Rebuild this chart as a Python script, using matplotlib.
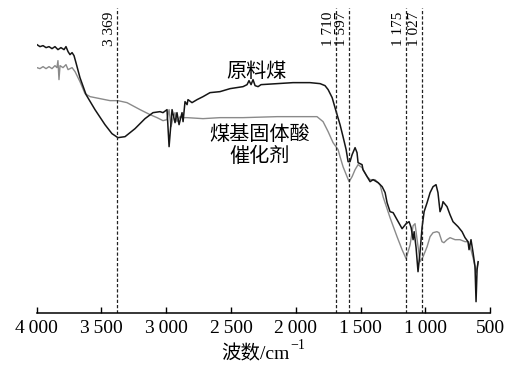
import matplotlib
matplotlib.use("Agg")
import matplotlib.pyplot as plt

plt.rcParams['font.family'] = ['Liberation Serif', 'Noto Sans CJK SC', 'DejaVu Sans']

# 原料煤 (raw coal) - wavenumber / transmittance (arb. units)
coal_w = [3998, 3975, 3951, 3928, 3905, 3882, 3859, 3836, 3813, 3789, 3774, 3758, 3743, 3727,
          3712, 3697, 3666, 3619, 3550, 3473, 3419, 3373, 3318, 3241, 3164, 3102, 3048, 3025,
          2994, 2978, 2955, 2932, 2917, 2901, 2878, 2870, 2855, 2839, 2832, 2801, 2762, 2716,
          2662, 2585, 2507, 2407, 2376, 2361, 2345, 2330, 2314, 2291, 2268, 2144, 2021, 1890,
          1812, 1774, 1750, 1719, 1688, 1658, 1635, 1611, 1596, 1581, 1565, 1542, 1527, 1519,
          1488, 1481, 1449, 1426, 1403, 1364, 1333, 1310, 1295, 1272, 1248, 1218, 1179, 1148,
          1125, 1109, 1094, 1086, 1071, 1056, 1040, 1025, 1009, 986, 963, 940, 917, 902, 886,
          871, 863, 832, 809, 786, 747, 716, 693, 670, 662, 647, 631, 616, 608, 600, 592]
coal_t = [268, 266, 267, 265, 266, 264, 266, 263, 265, 263, 266, 261, 258, 260,
          257, 250, 235, 218, 203, 188, 179, 175, 176, 184, 194, 200, 201, 200,
          203, 166, 203, 190, 200, 188, 200, 191, 211, 208, 213, 210, 213, 216,
          220, 221, 224, 226, 228, 232, 228, 233, 227, 226, 228, 229, 230, 230,
          229, 227, 223, 215, 201, 188, 176, 163, 151, 151, 158, 165, 160, 150,
          148, 143, 136, 131, 133, 130, 126, 120, 110, 101, 100, 93, 84, 89,
          91, 85, 73, 81, 65, 41, 61, 85, 101, 110, 120, 126, 128, 120, 101,
          106, 111, 106, 98, 91, 86, 81, 75, 71, 63, 73, 60, 46, 11, 43, 51]

# 煤基固体酸催化剂 (coal-based solid acid catalyst)
cat_w = [3998, 3975, 3951, 3928, 3905, 3882, 3859, 3844, 3836, 3828, 3820, 3797, 3774, 3758,
         3727, 3704, 3666, 3627, 3588, 3511, 3434, 3373, 3303, 3202, 3125, 3071, 3025, 2994,
         2978, 2963, 2947, 2932, 2917, 2893, 2870, 2839, 2716, 2585, 2407, 2144, 1890, 1836,
         1789, 1750, 1712, 1673, 1658, 1635, 1604, 1588, 1565, 1542, 1519, 1488, 1449, 1426,
         1388, 1349, 1326, 1272, 1218, 1179, 1148, 1117, 1094, 1079, 1063, 1040, 1017, 986,
         963, 940, 910, 894, 871, 856, 832, 809, 770, 732, 693, 670, 647, 631, 616, 608, 600, 592]
cat_t = [245, 244, 246, 244, 246, 244, 247, 245, 252, 233, 247, 245, 248, 243,
         245, 241, 231, 219, 216, 214, 212, 212, 210, 203, 198, 195, 192, 193,
         203, 186, 195, 200, 191, 196, 195, 195, 194, 195, 195, 196, 196, 196,
         191, 181, 170, 163, 156, 146, 136, 131, 136, 143, 148, 145, 136, 133,
         133, 128, 116, 95, 76, 63, 54, 68, 87, 89, 73, 51, 56, 66,
         76, 80, 81, 80, 71, 70, 73, 75, 73, 73, 71, 71, 63, 55, 46, 40, 45, 50]

# 特征峰
peak_pos = [3378, 1689, 1586, 1148, 1027]
peak_labels = ['3 369', '1 710', '1 597', '1 175', '1 027']

xticks = [4000, 3500, 3000, 2500, 2000, 1500, 1000, 500]
xtick_labels = ['4\u2009000', '3\u2009500', '3\u2009000', '2\u2009500', '2\u2009000',
                '1\u2009500', '1\u2009000', '500']

W, H = 512, 365
fig = plt.figure(figsize=(W / 100, H / 100), dpi=100)
ax = fig.add_axes([0.0717, 0.1433, 0.8854, 0.835])

ax.plot(cat_w, cat_t, color='#8a8a8a', lw=1.0)
ax.plot(coal_w, coal_t, color='#151515', lw=1.1)

for p, lab in zip(peak_pos, peak_labels):
    ax.axvline(p, color='#222222', lw=0.9, linestyle=(0, (2.6, 1.6)))
    ax.annotate(lab, xy=(p, 301), xytext=(-0.8, 0), textcoords='offset points',
                rotation=90, ha='right', va='top', fontsize=11)

ax.text(2307, 241, '原料煤', fontsize=14.5, ha='center', va='center',
        family=['Noto Sans CJK SC'])
ax.text(2280, 167, '煤基固体酸\n催化剂', fontsize=14.5, ha='center', va='center',
        family=['Noto Sans CJK SC'], linespacing=1.1)

ax.set_xlim(4000, 500)
ax.set_ylim(0, 304.7)
ax.set_xticks(xticks)
ax.set_xticklabels(xtick_labels, fontsize=14)
ax.tick_params(axis='x', direction='in', length=4.5, width=1.0, pad=5)
ax.set_yticks([])
for s in ['left', 'right', 'top']:
    ax.spines[s].set_visible(False)
ax.spines['bottom'].set_linewidth(1.1)

# x 轴标题: 波数/cm^-1
r = fig.canvas.get_renderer()
base = 6 / H
main = fig.text(0, base, '波数/cm', fontsize=14, va='baseline')
sup = fig.text(0, base + 10 / H, '\u22121', fontsize=10, va='baseline')
w1 = main.get_window_extent(r).width
w2 = sup.get_window_extent(r).width
x0 = 263 - (w1 + w2 + 1) / 2
main.set_x(x0 / W)
sup.set_x((x0 + w1 + 1) / W)

plt.savefig('out.png', dpi=100)
